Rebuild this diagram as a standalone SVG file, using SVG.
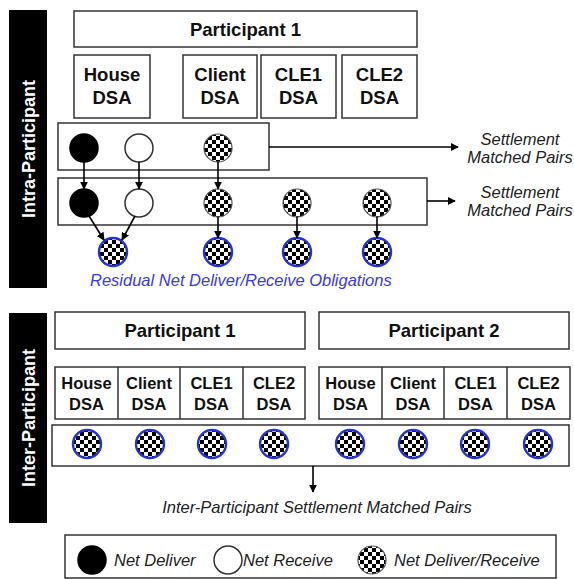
<svg xmlns="http://www.w3.org/2000/svg" width="574" height="579" viewBox="0 0 574 579">
  <style>
    .box { fill: #fff; stroke: #333; stroke-width: 1.5; }
    .band { fill: #000; }
    .side { font-family: "Liberation Sans", Arial, sans-serif; font-weight: bold; font-size: 18px; fill: #fff; text-anchor: middle; }
    .head { font-family: "Liberation Sans", Arial, sans-serif; font-weight: bold; font-size: 18.5px; fill: #111; text-anchor: middle; }
    .dsa { font-family: "Liberation Sans", Arial, sans-serif; font-weight: bold; font-size: 18.5px; fill: #111; text-anchor: middle; }
    .dsa2 { font-family: "Liberation Sans", Arial, sans-serif; font-weight: bold; font-size: 16.5px; fill: #111; text-anchor: middle; }
    .note { font-family: "Liberation Sans", Arial, sans-serif; font-style: italic; font-size: 16.5px; fill: #222; }
    .blue { font-family: "Liberation Sans", Arial, sans-serif; font-style: italic; font-size: 16.5px; fill: #3a3ae0; }
    .deliver { fill: #000; stroke: #000; stroke-width: 1.5; }
    .receive { fill: #fff; stroke: #333; stroke-width: 1.5; }
    .mixed { fill: url(#checker); stroke: #555; stroke-width: 1.2; }
    .resid { fill: url(#checker); stroke: #2233dd; stroke-width: 2.4; }
    .conn { stroke: #000; stroke-width: 1.6; fill: none; }
    .div { stroke: #333; stroke-width: 1.5; }
  </style>
  <defs>
    <pattern id="checker" patternUnits="userSpaceOnUse" width="8" height="8">
      <rect width="8" height="8" fill="#fff"/>
      <rect width="4" height="4" fill="#000"/>
      <rect x="4" y="4" width="4" height="4" fill="#000"/>
    </pattern>
    <marker id="arrow" viewBox="0 0 10 10" refX="9" refY="5" markerWidth="8" markerHeight="8" markerUnits="userSpaceOnUse" orient="auto">
      <path d="M0,0 L10,5 L0,10 z" fill="#000"/>
    </marker>
  </defs>

  <!-- side bands -->
  <g id="intra-band">
    <rect class="band" x="9" y="10" width="38" height="278"/>
    <text class="side" transform="translate(35,149) rotate(-90)">Intra-Participant</text>
  </g>
  <g id="inter-band">
    <rect class="band" x="9" y="313" width="38" height="210"/>
    <text class="side" transform="translate(35,418) rotate(-90)">Inter-Participant</text>
  </g>

  <!-- intra-participant: header and accounts -->
  <g id="p1-head">
    <rect class="box" x="74" y="11" width="343" height="36"/>
    <text class="head" x="245.5" y="36">Participant 1</text>
  </g>
  <g id="house-dsa">
    <rect class="box" x="74" y="55" width="76" height="63"/>
    <text class="dsa" x="112" y="81">House</text>
    <text class="dsa" x="112" y="104">DSA</text>
  </g>
  <g id="client-dsa">
    <rect class="box" x="183" y="55" width="74" height="63"/>
    <text class="dsa" x="220" y="81">Client</text>
    <text class="dsa" x="220" y="104">DSA</text>
  </g>
  <g id="cle1-dsa">
    <rect class="box" x="261" y="55" width="75" height="63"/>
    <text class="dsa" x="298.5" y="81">CLE1</text>
    <text class="dsa" x="298.5" y="104">DSA</text>
  </g>
  <g id="cle2-dsa">
    <rect class="box" x="342" y="55" width="75" height="63"/>
    <text class="dsa" x="379.5" y="81">CLE2</text>
    <text class="dsa" x="379.5" y="104">DSA</text>
  </g>

  <!-- intra-participant: position rows -->
  <g id="row1">
    <rect class="box" x="58" y="123" width="211" height="47"/>
    <circle class="deliver" cx="84" cy="148" r="14"/>
    <circle class="receive" cx="139" cy="148" r="14"/>
    <circle class="mixed" cx="218" cy="148" r="14"/>
  </g>
  <g id="row2">
    <rect class="box" x="58" y="178" width="369" height="47"/>
    <circle class="deliver" cx="84" cy="203" r="14"/>
    <circle class="receive" cx="139" cy="203" r="14"/>
    <circle class="mixed" cx="218" cy="203" r="14"/>
    <circle class="mixed" cx="297" cy="203" r="14"/>
    <circle class="mixed" cx="377" cy="203" r="14"/>
  </g>
  <g id="residual">
    <circle class="resid" cx="113" cy="252" r="14"/>
    <circle class="resid" cx="218" cy="252" r="14"/>
    <circle class="resid" cx="297" cy="252" r="14"/>
    <circle class="resid" cx="377" cy="252" r="14"/>
    <text class="blue" x="90" y="286">Residual Net Deliver/Receive Obligations</text>
  </g>
  <g id="out1">
    <text class="note" x="520" y="145" text-anchor="middle">Settlement</text>
    <text class="note" x="520" y="163" text-anchor="middle">Matched Pairs</text>
  </g>
  <g id="out2">
    <text class="note" x="520" y="198" text-anchor="middle">Settlement</text>
    <text class="note" x="520" y="216" text-anchor="middle">Matched Pairs</text>
  </g>

  <!-- inter-participant -->
  <g id="inter-p1">
    <rect class="box" x="55" y="312" width="250" height="37"/>
    <text class="head" x="180" y="337">Participant 1</text>
    <rect class="box" x="55" y="367" width="250" height="52"/>
    <line class="div" x1="118" y1="367" x2="118" y2="419"/>
    <line class="div" x1="180" y1="367" x2="180" y2="419"/>
    <line class="div" x1="243" y1="367" x2="243" y2="419"/>
    <text class="dsa2" x="86.5" y="389">House</text>
    <text class="dsa2" x="86.5" y="410">DSA</text>
    <text class="dsa2" x="149" y="389">Client</text>
    <text class="dsa2" x="149" y="410">DSA</text>
    <text class="dsa2" x="211.5" y="389">CLE1</text>
    <text class="dsa2" x="211.5" y="410">DSA</text>
    <text class="dsa2" x="274" y="389">CLE2</text>
    <text class="dsa2" x="274" y="410">DSA</text>
  </g>
  <g id="inter-p2">
    <rect class="box" x="319" y="312" width="250" height="37"/>
    <text class="head" x="444" y="337">Participant 2</text>
    <rect class="box" x="319" y="367" width="251" height="52"/>
    <line class="div" x1="382" y1="367" x2="382" y2="419"/>
    <line class="div" x1="444" y1="367" x2="444" y2="419"/>
    <line class="div" x1="507" y1="367" x2="507" y2="419"/>
    <text class="dsa2" x="350.5" y="389">House</text>
    <text class="dsa2" x="350.5" y="410">DSA</text>
    <text class="dsa2" x="413" y="389">Client</text>
    <text class="dsa2" x="413" y="410">DSA</text>
    <text class="dsa2" x="475.5" y="389">CLE1</text>
    <text class="dsa2" x="475.5" y="410">DSA</text>
    <text class="dsa2" x="538.5" y="389">CLE2</text>
    <text class="dsa2" x="538.5" y="410">DSA</text>
  </g>
  <g id="inter-row">
    <rect class="box" x="52" y="425" width="517" height="41"/>
    <circle class="resid" cx="87" cy="444" r="14"/>
    <circle class="resid" cx="150" cy="444" r="14"/>
    <circle class="resid" cx="212" cy="444" r="14"/>
    <circle class="resid" cx="274" cy="444" r="14"/>
    <circle class="resid" cx="350" cy="444" r="14"/>
    <circle class="resid" cx="413" cy="444" r="14"/>
    <circle class="resid" cx="475" cy="444" r="14"/>
    <circle class="resid" cx="538" cy="444" r="14"/>
  </g>
  <g id="inter-out">
    <text class="note" x="317" y="513" text-anchor="middle">Inter-Participant Settlement Matched Pairs</text>
  </g>

  <!-- legend -->
  <g id="legend">
    <rect class="box" x="65" y="535" width="491" height="43"/>
    <circle class="deliver" cx="92" cy="560" r="14"/>
    <text class="note" x="114" y="566">Net Deliver</text>
    <circle class="receive" cx="228" cy="560" r="14"/>
    <text class="note" x="243" y="566">Net Receive</text>
    <circle class="mixed" cx="372" cy="560" r="14"/>
    <text class="note" x="394" y="566">Net Deliver/Receive</text>
  </g>

  <!-- connectors -->
  <g id="connectors">
    <line class="conn" x1="269" y1="147" x2="458" y2="147" marker-end="url(#arrow)"/>
    <line class="conn" x1="427" y1="201" x2="455" y2="201" marker-end="url(#arrow)"/>
    <line class="conn" x1="84" y1="162" x2="84" y2="189" marker-end="url(#arrow)"/>
    <line class="conn" x1="139" y1="162" x2="139" y2="189" marker-end="url(#arrow)"/>
    <line class="conn" x1="218" y1="162" x2="218" y2="189" marker-end="url(#arrow)"/>
    <line class="conn" x1="89" y1="216" x2="104" y2="240" marker-end="url(#arrow)"/>
    <line class="conn" x1="135" y1="216" x2="122" y2="240" marker-end="url(#arrow)"/>
    <line class="conn" x1="218" y1="217" x2="218" y2="238" marker-end="url(#arrow)"/>
    <line class="conn" x1="297" y1="217" x2="297" y2="238" marker-end="url(#arrow)"/>
    <line class="conn" x1="377" y1="217" x2="377" y2="238" marker-end="url(#arrow)"/>
    <line class="conn" x1="313" y1="466" x2="313" y2="492" marker-end="url(#arrow)"/>
  </g>
</svg>
